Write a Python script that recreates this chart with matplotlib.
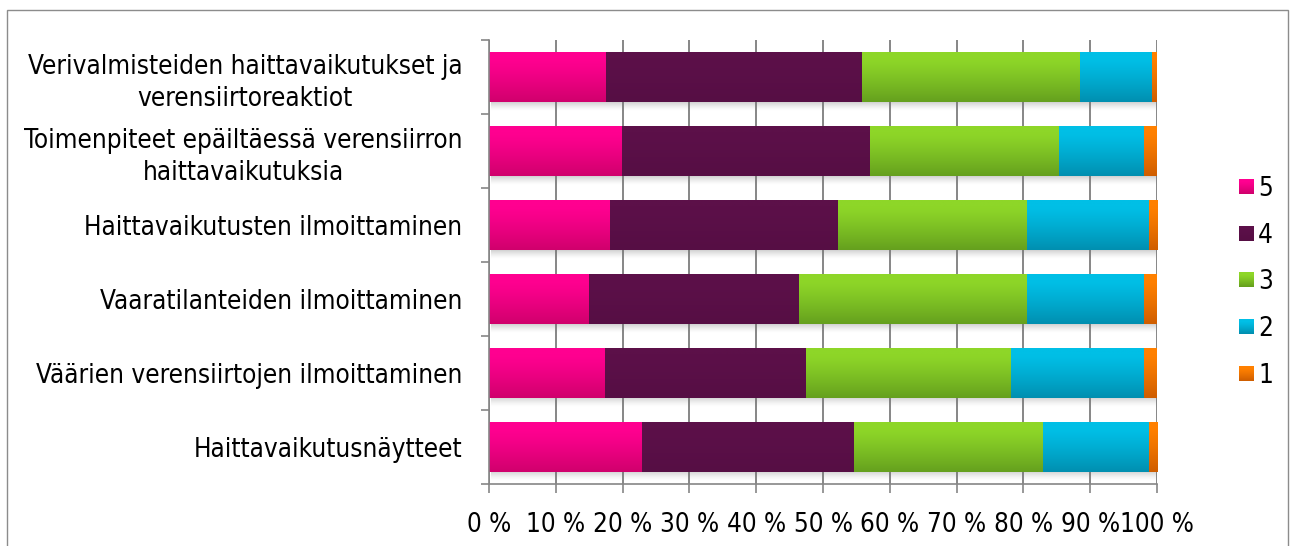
import numpy as np
import matplotlib
matplotlib.use("Agg")
import matplotlib.pyplot as plt
from matplotlib.patches import Rectangle
from matplotlib.colors import to_rgb

plt.rcParams['font.family'] = ['DejaVu Sans']

categories = [
    "Verivalmisteiden haittavaikutukset ja\nverensiirtoreaktiot",
    "Toimenpiteet epäiltäessä verensiirron\nhaittavaikutuksia",
    "Haittavaikutusten ilmoittaminen",
    "Vaaratilanteiden ilmoittaminen",
    "Väärien verensiirtojen ilmoittaminen",
    "Haittavaikutusnäytteet",
]
series_names = ["5", "4", "3", "2", "1"]
# Share of answers (%) per rating
s5 = [17.5, 19.9, 18.1, 15.0, 17.4, 22.9]
s4 = [38.4, 37.2, 34.2, 31.4, 30.1, 31.8]
s3 = [32.6, 28.3, 28.3, 34.2, 30.7, 28.3]
s2 = [10.8, 12.7, 18.2, 17.5, 19.9, 15.8]
s1 = [0.7, 1.9, 1.2, 1.9, 1.9, 1.2]
xtick_vals = list(range(0, 101, 10))
xtick_labels = [f"{v} %" for v in xtick_vals]

# gradient top / bottom colours for each series
grad = {
    "5": ("#FF0090", "#D0006C"),
    "4": ("#5C1049", "#560E44"),
    "3": ("#8ED628", "#65A01E"),
    "2": ("#00BFE6", "#008FB0"),
    "1": ("#FF8000", "#CF5E00"),
}

FS = 18.7
STRETCH = "condensed"

W, H = 1290, 546
fig = plt.figure(figsize=(W / 100, H / 100), dpi=100)
ax = fig.add_axes([489 / W, 1 - 484 / H, (1157 - 489) / W, (484 - 40) / H])

data = np.array([s5, s4, s3, s2, s1])
n = len(categories)
ypos = np.arange(n)
bar_h = 0.68
px = 1 / 74.0  # one pixel in y data units

ax.set_xlim(0, 100)
ax.set_ylim(n - 0.5, -0.5)


def gradient_img(c_top, c_bot, ny=64):
    t = np.linspace(0, 1, ny)
    t = np.clip((t - 0.15) / 0.85, 0, 1) ** 1.2
    a = np.array(to_rgb(c_top))
    b = np.array(to_rgb(c_bot))
    col = a[None, :] * (1 - t[:, None]) + b[None, :] * t[:, None]
    return col[:, None, :]


# drop shadow under each bar
shadow = np.zeros((32, 1, 4))
shadow[..., :3] = 0.45
shadow[:, 0, 3] = np.linspace(0.45, 0.0, 32) ** 1.4
for i in range(n):
    top = ypos[i] + bar_h / 2
    ax.imshow(shadow, extent=(0.3, 100.4, top + 9 * px, top), aspect="auto",
              interpolation="bilinear", zorder=1.5)

left = np.zeros(n)
for k, name in enumerate(series_names):
    vals = data[k]
    img = gradient_img(*grad[name])
    for i in range(n):
        y0 = ypos[i] - bar_h / 2
        rect = Rectangle((left[i], y0), vals[i], bar_h, facecolor="none",
                         edgecolor="none", zorder=2)
        ax.add_patch(rect)
        im = ax.imshow(img, extent=(left[i], left[i] + vals[i], y0 + bar_h, y0),
                       aspect="auto", interpolation="bilinear", zorder=2)
        im.set_clip_path(rect)
    left += vals

ax.set_xlim(0, 100)
ax.set_ylim(n - 0.5, -0.5)

axis_col = "#868686"
ax.set_xticks(xtick_vals)
ax.set_xticklabels(xtick_labels)
ax.grid(axis="x", color=axis_col, linewidth=1.4, zorder=0)
ax.set_axisbelow(True)

ax.set_yticks(np.arange(n + 1) - 0.5)
ax.set_yticklabels([])
ax.set_yticks(ypos, minor=True)
ax.set_yticklabels(categories, minor=True, ha="right", multialignment="center",
                   fontsize=FS, fontstretch=STRETCH, linespacing=1.3)
ax.tick_params(axis="y", which="minor", length=0, pad=19)
ax.tick_params(axis="y", which="major", length=6, width=1.2, color=axis_col,
               direction="out")
ax.tick_params(axis="x", length=6.5, width=1.2, color=axis_col, direction="out",
               labelsize=FS, pad=14)
for lab in ax.get_xticklabels():
    lab.set_fontstretch(STRETCH)

for s in ["top", "right"]:
    ax.spines[s].set_visible(False)
for s in ["left", "bottom"]:
    ax.spines[s].set_color(axis_col)
    ax.spines[s].set_linewidth(1.2)

# legend: colour squares with labels, one row per rating
leg_y0, leg_dy = 186, 46.7
for j, nm in enumerate(series_names):
    yc = leg_y0 + j * leg_dy
    fig.figimage(np.repeat(gradient_img(*grad[nm], ny=15), 15, 1),
                 xo=1239, yo=int(H - yc - 7.5), zorder=3)
    fig.text(1258 / W, 1 - yc / H, nm, fontsize=FS, fontstretch=STRETCH,
             va="center_baseline", ha="left")

# outer chart border
fig.add_artist(Rectangle((7 / W, -0.01), (1288 - 7) / W, 1 - 10 / H + 0.01,
                         transform=fig.transFigure, facecolor="none",
                         edgecolor="#8c8c8c", linewidth=1.0))

fig.savefig("out.png", dpi=100)
